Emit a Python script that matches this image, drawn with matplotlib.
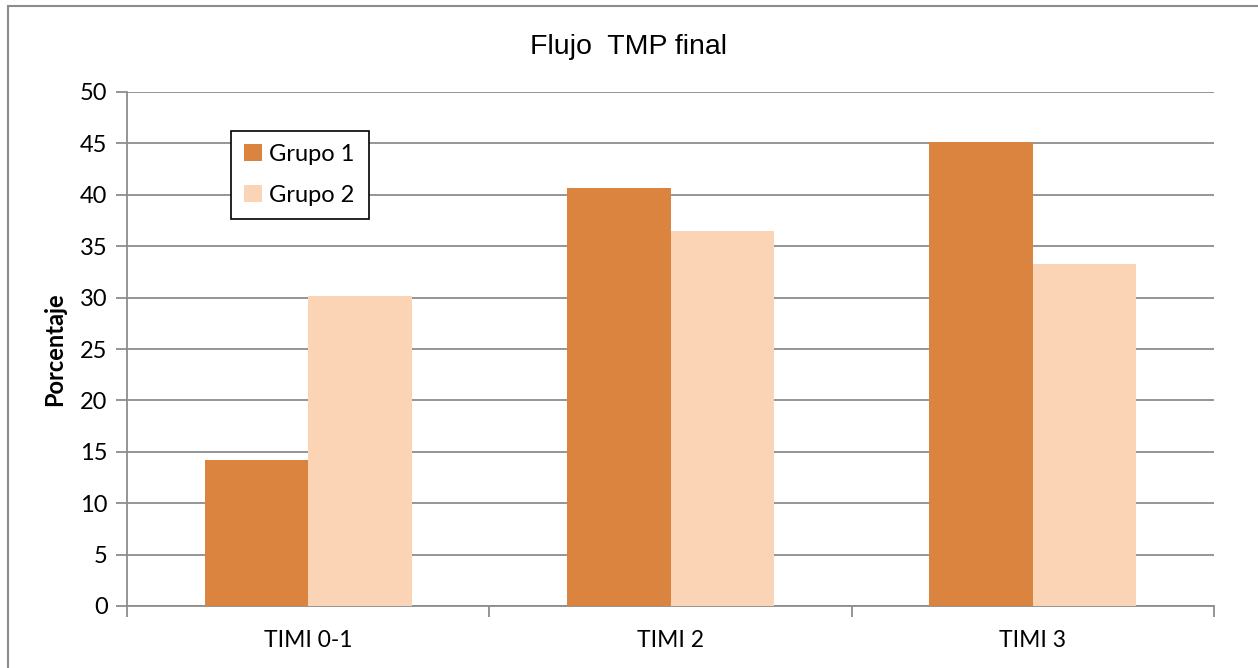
import matplotlib
matplotlib.use("Agg")
import matplotlib.pyplot as plt
import numpy as np
from matplotlib.patches import Rectangle

categorias = ["TIMI 0-1", "TIMI 2", "TIMI 3"]
grupo1 = [14.2, 40.7, 45.1]
grupo2 = [30.2, 36.5, 33.3]
series = ["Grupo 1", "Grupo 2"]
yticks = [0, 5, 10, 15, 20, 25, 30, 35, 40, 45, 50]

color1 = "#DA843F"
color2 = "#FAD4B5"
gris = "#8C8C8C"

plt.rcParams['font.family'] = ['Lato', 'DejaVu Sans']

fig = plt.figure(figsize=(12.58, 6.68), dpi=100)
ax = fig.add_axes([127 / 1258, 1 - 606 / 668, (1214 - 127) / 1258, (606 - 92) / 668])

# marco exterior del gráfico
fig.patches.append(Rectangle((8 / 1258, -0.1), 1.2, 1 - 6 / 668 + 0.1,
                             transform=fig.transFigure, fill=False,
                             edgecolor=gris, linewidth=1.5))

x = np.arange(len(categorias))
ancho = 0.286
ax.bar(x - ancho / 2, grupo1, ancho, color=color1, label=series[0], zorder=3)
ax.bar(x + ancho / 2, grupo2, ancho, color=color2, label=series[1], zorder=3)

ax.set_xlim(-0.5, 2.5)
ax.set_ylim(0, 50)
ax.set_yticks(yticks)
ax.yaxis.grid(True, color=gris, linewidth=1.3, zorder=0)
ax.set_axisbelow(True)

ax.set_xticks(x)
ax.set_xticklabels(categorias, fontsize=16.5)
ax.tick_params(axis='x', length=0, pad=17)
ax.set_xticks([-0.5, 0.5, 1.5, 2.5], minor=True)
ax.tick_params(axis='x', which='minor', length=8, color=gris, width=1.3)
ax.tick_params(axis='y', length=8, color=gris, width=1.3, labelsize=17, pad=6)

for lado in ['top', 'right']:
    ax.spines[lado].set_visible(False)
for lado in ['left', 'bottom']:
    ax.spines[lado].set_color(gris)
    ax.spines[lado].set_linewidth(1.3)

ax.set_ylabel("Porcentaje", fontsize=17, fontweight='bold')
ax.yaxis.set_label_coords((66 - 127) / 1087, 0.5)

fig.text(0.5, 1 - 47 / 668, "Flujo  TMP final", ha='center', va='center',
         fontsize=20.5, family='Liberation Sans')

leg = ax.legend(loc='upper left', bbox_to_anchor=(231 / 1258, 1 - 228 / 668,
                                                  (369 - 231) / 1258, (228 - 131) / 668),
                bbox_transform=fig.transFigure, mode='expand', fancybox=False,
                edgecolor='black', framealpha=1, fontsize=17, handlelength=0.75,
                handleheight=0.75, handletextpad=0.3, labelspacing=0.85,
                borderpad=0.55, borderaxespad=0)
leg.get_frame().set_linewidth(1.2)

plt.savefig("out.png", dpi=100)
plt.close()
